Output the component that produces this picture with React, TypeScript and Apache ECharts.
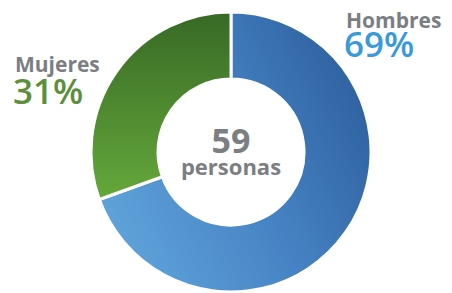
import React, { useEffect, useRef } from "react";
import * as echarts from "echarts";

const categories = ["Hombres", "Mujeres"];
const counts = [41, 18];
const totalLabel = "personas";

export default function App() {
  const ref = useRef<HTMLDivElement>(null);
  useEffect(() => {
    if (!ref.current) return;
    const chart = echarts.init(ref.current, null, { renderer: "svg" });
    const total = counts.reduce((a, b) => a + b, 0);
    const pct = counts.map((c) => Math.round((c / total) * 100) + "%");
    const font = "'Open Sans', sans-serif";
    const gray = "#7b7e82";
    const txt = (
      x: number,
      y: number,
      text: string,
      weight: string,
      size: number,
      lh: number,
      fill: string,
      align: string
    ) => ({
      type: "text",
      x,
      y,
      style: {
        text,
        font: `${weight} ${size}px ${font}`,
        lineHeight: lh,
        fill,
        align,
        verticalAlign: "middle",
      },
    });
    chart.setOption({
      animation: false,
      series: [
        {
          type: "pie",
          center: [231, 152],
          radius: [73, 140],
          startAngle: 90,
          clockwise: true,
          silent: true,
          label: { show: false },
          labelLine: { show: false },
          itemStyle: { borderColor: "#ffffff", borderWidth: 3 },
          data: [
            {
              name: categories[0],
              value: counts[0],
              itemStyle: {
                color: new echarts.graphic.LinearGradient(0, 0.7, 1, 0.2, [
                  { offset: 0, color: "#5fa3da" },
                  { offset: 0.5, color: "#4682c3" },
                  { offset: 1, color: "#2c5e9b" },
                ]),
              },
            },
            {
              name: categories[1],
              value: counts[1],
              itemStyle: {
                color: new echarts.graphic.LinearGradient(0, 0, 0, 1, [
                  { offset: 0, color: "#376925" },
                  { offset: 1, color: "#65a83b" },
                ]),
              },
            },
          ],
        },
      ],
      graphic: [
        txt(346, 19.5, categories[0], "bold", 21, 16, gray, "left"),
        txt(344, 43, pct[0], "600", 35, 26, "#3a9ad9", "left"),
        txt(15, 64, categories[1], "bold", 21, 16, gray, "left"),
        txt(13, 90, pct[1], "600", 35, 26, "#5c8e3c", "left"),
        txt(231, 140, String(total), "bold", 34, 26, gray, "center"),
        txt(231, 166, totalLabel, "bold", 22, 16, gray, "center"),
      ],
    });
    return () => chart.dispose();
  }, []);
  return <div ref={ref} style={{ width: 452, height: 293, position: "absolute", left: 0, top: 0 }} />;
}
